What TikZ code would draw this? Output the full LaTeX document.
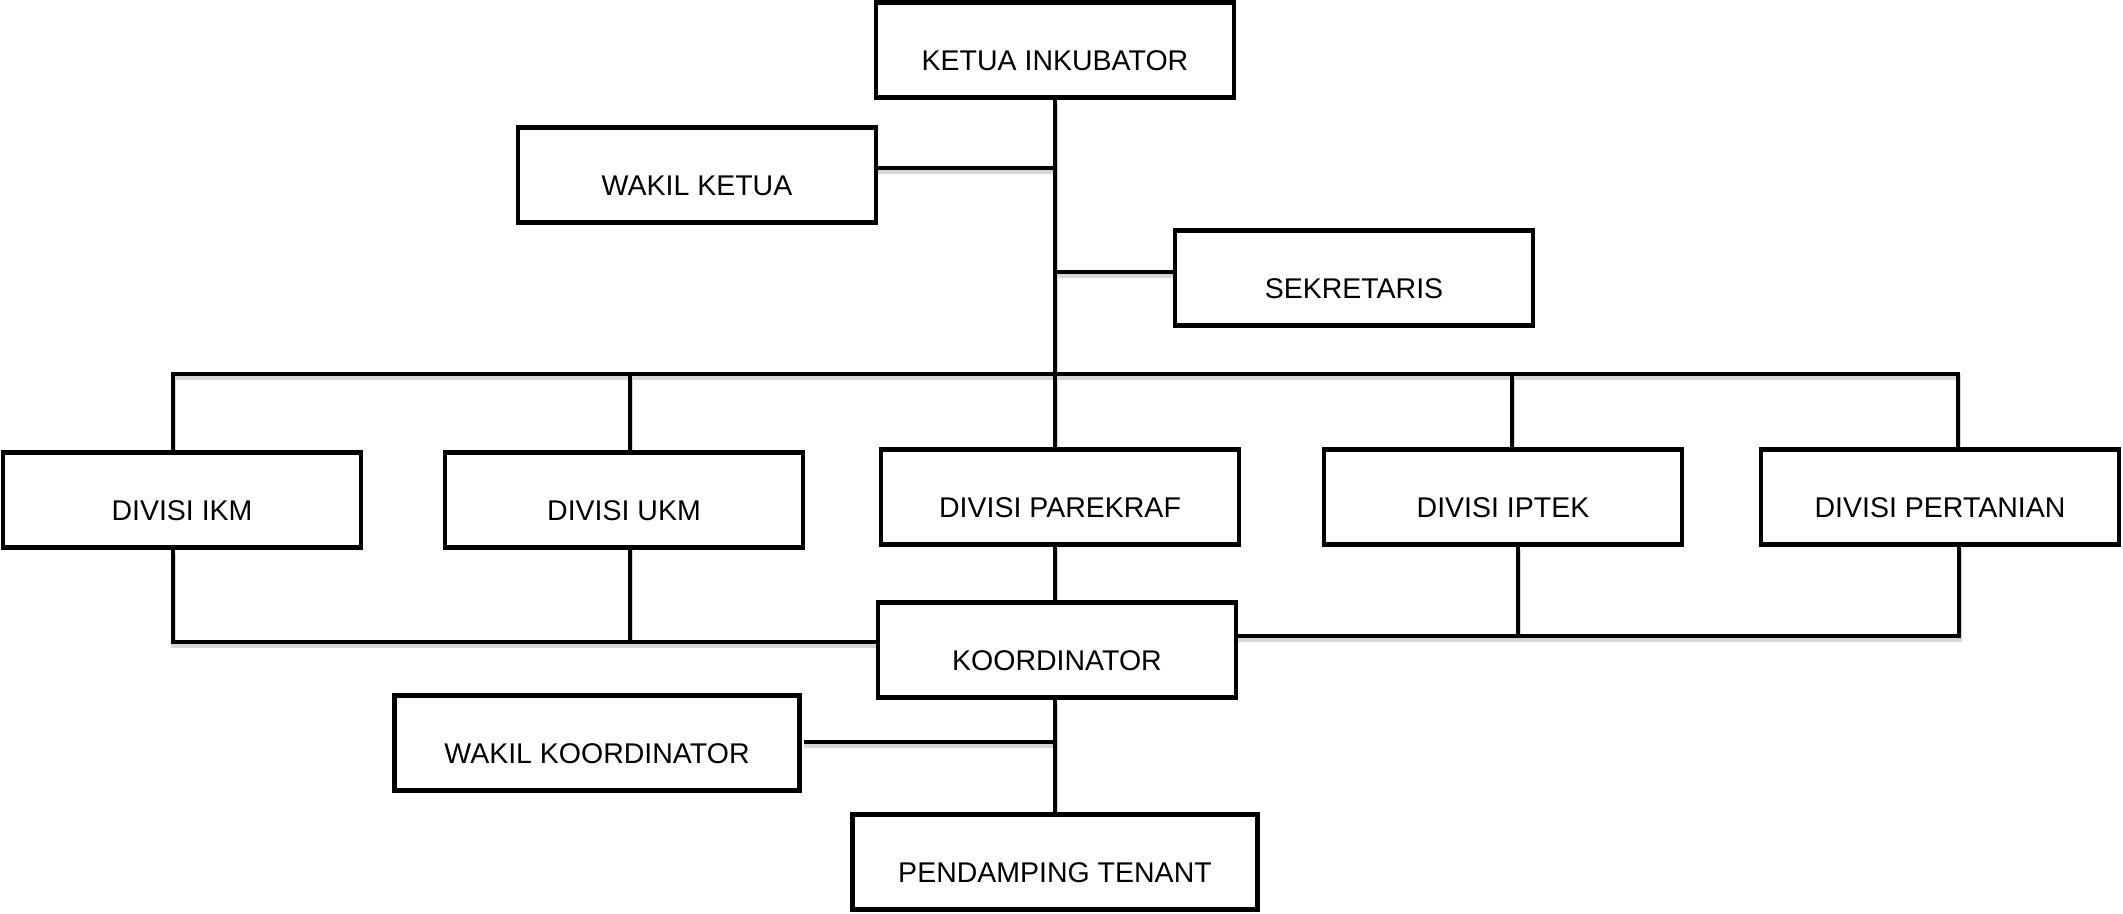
\documentclass[tikz,border=0pt]{standalone}
\usepackage{fontspec}
\setmainfont{Liberation Sans}
\pgfdeclarelayer{shadowlayer}
\pgfsetlayers{shadowlayer,main}
\newcommand{\orgconnectors}{%
  % top trunk
  \draw[conn] (ketua.south) -- (ketua.south |- parekraf.north);
  \draw[conn] (wakil.east |- jw) -- (jw);
  \draw[conn] (js) -- (sekre.west |- js);
  % division bus
  \draw[conn] (busL |- ikm.north) -- (busL) -- (busR) -- (busR |- pertanian.north);
  \draw[conn] (xukm) -- (xukm |- ukm.north);
  \draw[conn] (xip) -- (xip |- iptek.north);
  % lower bus
  \draw[conn] (lowL |- ikm.south) -- (lowL) -- (koord.west |- lowL);
  \draw[conn] (ukmIn) -- (lowU);
  \draw[conn] (koord.east |- lowR) -- (lowR) -- (lowR |- pertanian.south);
  \draw[conn] (lowI |- iptek.south) -- (lowI);
  \draw[conn] (parekraf.south -| ketua.south) -- (koord.north -| ketua.south);
  % coordinator chain
  \draw[conn] (koord.south -| ketua.south) -- (pendamping.north -| ketua.south);
  \draw[conn] (wkEnd) -- (jk);
}
\begin{document}
\begin{tikzpicture}[x=1pt,y=-1pt,
  box/.style={draw, line width=4.6pt, rectangle, minimum width=358pt, minimum height=95pt,
    inner sep=0pt, text height=40pt, text depth=0pt,
    font=\fontsize{28.5}{34}\selectfont},
  widebox/.style={box, minimum width=405pt},
  conn/.style={line width=4.6pt}]
\useasboundingbox (0,0) rectangle (2123,913);

\node[box] (ketua) at (1055,50) {KETUA INKUBATOR};
\node[box] (wakil) at (697,175) {WAKIL KETUA};
\node[box] (sekre) at (1354,278) {SEKRETARIS};
\node[box] (ikm) at (182,500) {DIVISI IKM};
\node[box] (ukm) at (624,500) {DIVISI UKM};
\node[box] (parekraf) at (1060,497) {DIVISI PAREKRAF};
\node[box] (iptek) at (1503,497) {DIVISI IPTEK};
\node[box] (pertanian) at (1940,497) {DIVISI PERTANIAN};
\node[box] (koord) at (1057,650) {KOORDINATOR};
\node[widebox] (wkoord) at (597,743) {WAKIL KOORDINATOR};
\node[widebox] (pendamping) at (1055,862) {PENDAMPING TENANT};

\coordinate (jw) at (1055,168);
\coordinate (js) at (1055,272);
\coordinate (busL) at (173,374);
\coordinate (busR) at (1958,374);
\coordinate (xukm) at (630,374);
\coordinate (xip) at (1512,374);
\coordinate (lowL) at (173,642);
\coordinate (lowU) at (630,642);
\coordinate (ukmIn) at (630,546);
\coordinate (lowR) at (1959,636);
\coordinate (lowI) at (1518,636);
\coordinate (jk) at (1055,742);
\coordinate (wkEnd) at (804,742);

\begin{pgfonlayer}{shadowlayer}
  \begin{scope}[transform canvas={yshift=-3.5pt},
      conn/.style={line width=5pt, draw=black!16}]
    \orgconnectors
  \end{scope}
\end{pgfonlayer}
\orgconnectors
\end{tikzpicture}
\end{document}
